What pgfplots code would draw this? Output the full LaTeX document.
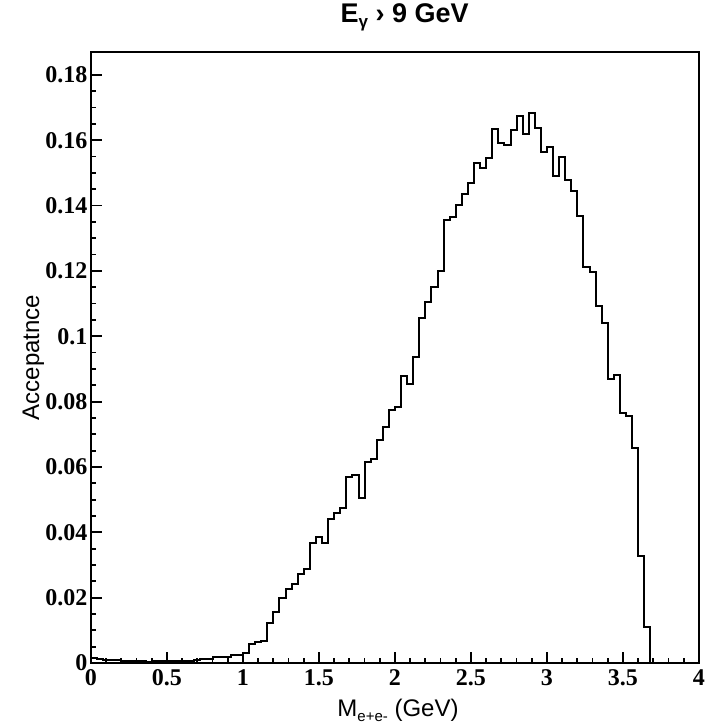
\documentclass[border=0pt]{standalone}
\usepackage{fontspec}
\setmainfont{Liberation Serif}
\newfontfamily\helv{Liberation Sans}
\usepackage{pgfplots}
\usepackage{pgfplotstable}
\pgfplotsset{compat=1.18}

% acceptance per 0.04 GeV bin (low edge, value)
\pgfplotstableread{
x y
0.00 0.0014
0.04 0.0013
0.08 0.0010
0.12 0.0010
0.16 0.0008
0.20 0.0007
0.24 0.0006
0.28 0.0005
0.32 0.0005
0.36 0.0004
0.40 0.0005
0.44 0.0006
0.48 0.0006
0.52 0.0007
0.56 0.0006
0.60 0.0006
0.64 0.0007
0.68 0.0008
0.72 0.0011
0.76 0.0012
0.80 0.0018
0.84 0.0018
0.88 0.0019
0.92 0.0024
0.96 0.0025
1.00 0.0030
1.04 0.0058
1.08 0.0063
1.12 0.0068
1.16 0.0121
1.20 0.0155
1.24 0.0198
1.28 0.0226
1.32 0.0241
1.36 0.0271
1.40 0.0288
1.44 0.0366
1.48 0.0387
1.52 0.0366
1.56 0.0440
1.60 0.0460
1.64 0.0473
1.68 0.0570
1.72 0.0575
1.76 0.0504
1.80 0.0616
1.84 0.0623
1.88 0.0682
1.92 0.0721
1.96 0.0774
2.00 0.0782
2.04 0.0878
2.08 0.0853
2.12 0.0935
2.16 0.1055
2.20 0.1106
2.24 0.1150
2.28 0.1200
2.32 0.1356
2.36 0.1366
2.40 0.1402
2.44 0.1435
2.48 0.1468
2.52 0.1531
2.56 0.1516
2.60 0.1545
2.64 0.1633
2.68 0.1590
2.72 0.1585
2.76 0.1630
2.80 0.1674
2.84 0.1619
2.88 0.1683
2.92 0.1638
2.96 0.1565
3.00 0.1580
3.04 0.1490
3.08 0.1550
3.12 0.1478
3.16 0.1445
3.20 0.1367
3.24 0.1213
3.28 0.1197
3.32 0.1093
3.36 0.1040
3.40 0.0868
3.44 0.0881
3.48 0.0765
3.52 0.0757
3.56 0.0657
3.60 0.0328
3.64 0.0111
3.68 0
3.72 0
3.76 0
3.80 0
3.84 0
3.88 0
3.92 0
3.96 0
4.00 0
}\acc

\begin{document}
\begin{tikzpicture}
\begin{axis}[
  name=ax,
  scale only axis,
  width=608pt, height=611pt,
  xmin=0, xmax=4, ymin=0, ymax=0.187,
  xtick={0,0.5,1,1.5,2,2.5,3,3.5,4},
  ytick={0,0.02,0.04,0.06,0.08,0.1,0.12,0.14,0.16,0.18},
  minor x tick num=4,
  minor y tick num=3,
  tick align=inside,
  tick pos=left,
  major tick length=11pt,
  minor tick length=5.5pt,
  axis line style={line width=2pt},
  tick style={line width=1.8pt, black},
  ticklabel style={font=\fontsize{24}{24}\selectfont\bfseries},
  xticklabel style={yshift=-3pt},
  /pgf/number format/assume math mode=true,
  /pgf/number format/fixed,
  /pgf/number format/precision=2,
  title={\helv\bfseries\fontsize{27}{27}\selectfont E\raisebox{-0.35ex}{\fontsize{17}{17}\selectfont γ} › 9 GeV},
  title style={at={(axis description cs:0.516,1.038)}, anchor=base, inner sep=0pt},
  xlabel={\helv\fontsize{24}{24}\selectfont M\raisebox{-0.4ex}{\fontsize{15}{15}\selectfont e+e-} (GeV)},
  xlabel style={at={(axis description cs:0.505,-0.077)}, anchor=center},
  ylabel={\helv\fontsize{24}{24}\selectfont Accepatnce},
  ylabel style={at={(axis description cs:-0.095,0.5)}, anchor=center},
]
\addplot[const plot, line width=2pt, black] table[x=x, y=y] {\acc};
\end{axis}
\pgfresetboundingbox
\path (ax.south west) ++(-91pt,-61pt) rectangle ++(714pt,724pt);
\end{tikzpicture}
\end{document}
